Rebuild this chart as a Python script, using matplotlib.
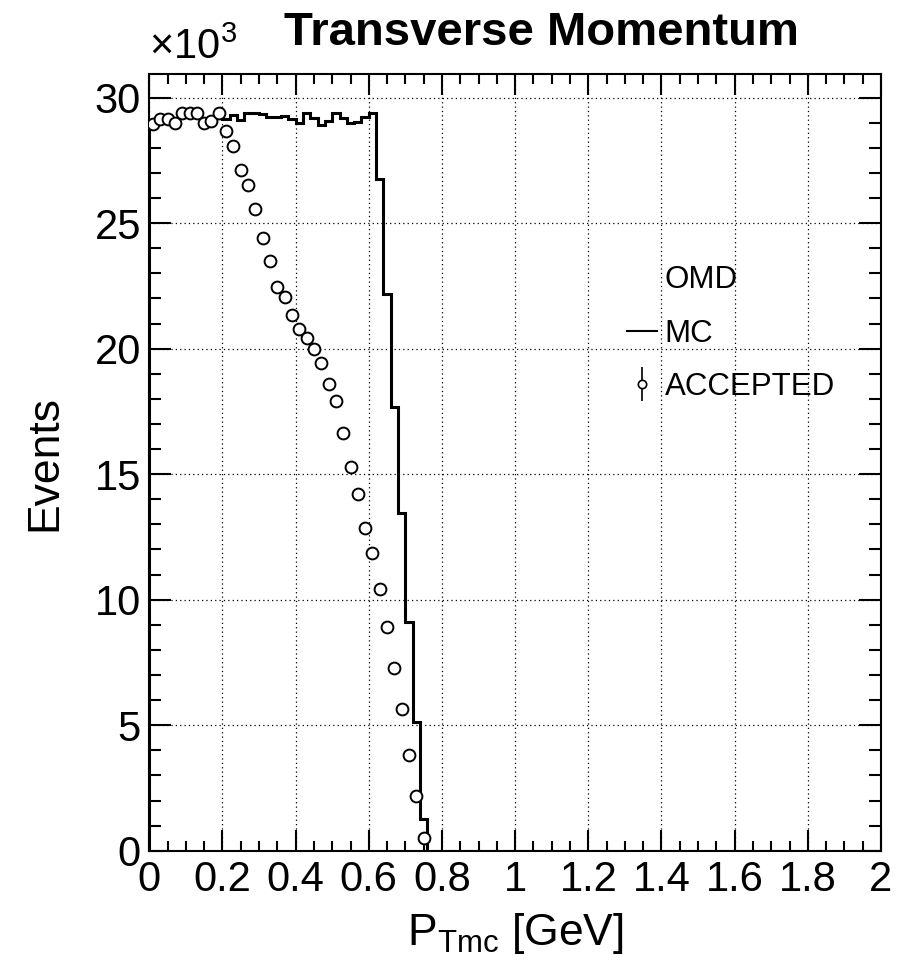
import numpy as np
import matplotlib.pyplot as plt
from matplotlib.lines import Line2D
from matplotlib.legend_handler import HandlerTuple
from matplotlib.ticker import MultipleLocator, FuncFormatter

plt.rcParams['font.family'] = ['Liberation Sans', 'DejaVu Sans']
plt.rcParams['mathtext.fontset'] = 'custom'
plt.rcParams['mathtext.rm'] = 'Liberation Sans'
plt.rcParams['mathtext.it'] = 'Liberation Sans:italic'

# 100 bins of 0.02 GeV on [0, 2]
bin_edges = np.linspace(0, 2, 101)

# MC events per bin (non-empty bins only, the rest are zero)
mc_counts = [28960, 29140, 29150, 28980, 29380, 29380, 29380, 28980, 29050, 29380,
             29150, 29300, 29100, 29380, 29380, 29330, 29220, 29220, 29270, 29140,
             28970, 29370, 29200, 28920, 29050, 29400, 29170, 28970, 29020, 29220,
             29370, 26740, 22160, 17660, 13450, 9100, 5120, 1270]

# accepted events per bin
acc_counts = [28960, 29140, 29150, 28980, 29380, 29380, 29380, 28980, 29050, 29380,
              28670, 28080, 27120, 26520, 25570, 24420, 23510, 22470, 22050, 21330,
              20770, 20440, 19990, 19440, 18580, 17930, 16630, 15270, 14200, 12870,
              11850, 10440, 8920, 7280, 5660, 3810, 2180, 520]

mc_full = np.zeros(len(bin_edges) - 1)
mc_full[:len(mc_counts)] = mc_counts
centers = 0.5 * (bin_edges[:-1] + bin_edges[1:])

fig = plt.figure(figsize=(9.01, 9.80), dpi=100)
ax = fig.add_axes([0.1657, 0.1319, 0.8121, 0.7923])

ax.stairs(mc_full, bin_edges, color='black', linewidth=2.2)
ax.plot(centers[:len(acc_counts)], acc_counts, 'o', ls='none', mfc='white',
        mec='black', ms=8.5, mew=1.4, zorder=3)

ax.set_xlim(0, 2)
ax.set_ylim(0, 30930)

# ROOT-like ticks
ax.xaxis.set_major_locator(MultipleLocator(0.2))
ax.xaxis.set_minor_locator(MultipleLocator(0.05))
ax.yaxis.set_major_locator(MultipleLocator(5000))
ax.yaxis.set_minor_locator(MultipleLocator(1000))
ax.xaxis.set_major_formatter(FuncFormatter(lambda v, p: f'{v:g}'))
ax.yaxis.set_major_formatter(FuncFormatter(lambda v, p: f'{v / 1000:g}'))
ax.tick_params(which='both', direction='in', top=True, right=True,
               labelsize=30, width=1.5)
ax.tick_params(axis='x', which='major', length=15, pad=7)
ax.tick_params(axis='x', which='minor', length=7.5)
ax.tick_params(axis='y', which='major', length=16, pad=6)
ax.tick_params(axis='y', which='minor', length=8.5)
for s in ax.spines.values():
    s.set_linewidth(1.5)

ax.grid(True, which='major', color='black', linestyle=(0, (1, 2.5)), linewidth=0.9)
ax.set_axisbelow(True)

ax.text(0.0, 1.008, r'$\times$10$^{\mathrm{3}}$', transform=ax.transAxes,
        fontsize=30, ha='left', va='bottom')

ax.set_xlabel(r'P$_{\mathrm{Tmc}}$ [GeV]', fontsize=32)
ax.xaxis.set_label_coords(0.5, -0.078)
ax.xaxis.label.set_va('top')
ax.set_ylabel('Events', fontsize=32)
ax.yaxis.set_label_coords(-0.115, 0.5)

fig.text(0.6005, 0.966, 'Transverse Momentum', fontsize=34, fontweight='bold',
         ha='center', va='center')

# legend: header line, MC line, accepted marker with error bar
header = Line2D([], [], linestyle='none')
mc_handle = Line2D([], [], color='black', linewidth=1.5)
acc_bar = Line2D([], [], marker='|', ms=24, mew=1.2, ls='none', color='black')
acc_dot = Line2D([], [], marker='o', ms=6, mew=1.2, ls='none', mfc='white', mec='black')
ax.legend([header, mc_handle, (acc_bar, acc_dot)], ['OMD', 'MC', 'ACCEPTED'],
          handler_map={tuple: HandlerTuple(ndivide=1)},
          loc='upper left', bbox_to_anchor=(0.636, 0.77), frameon=False,
          fontsize=22.5, handlelength=0.95, handletextpad=0.25, labelspacing=0.75,
          borderaxespad=0)

fig.savefig('out.png', dpi=100)
